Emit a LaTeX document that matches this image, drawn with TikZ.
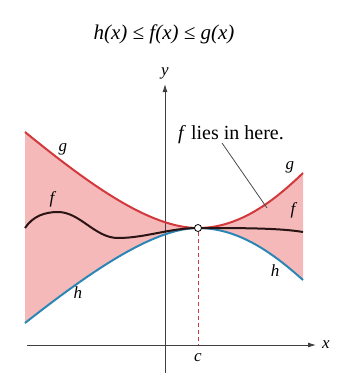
\documentclass[tikz,border=0pt]{standalone}
\usepackage{fontspec}
\setmainfont{Liberation Serif}
\usetikzlibrary{arrows.meta}
\definecolor{gred}{HTML}{D2383C}
\definecolor{hblue}{HTML}{2A86B4}
\definecolor{fillpink}{HTML}{F5B9B9}
\definecolor{fdark}{HTML}{2A1414}
\tikzset{
  curvelbl/.style={font=\itshape\fontsize{17}{18}\selectfont, inner sep=0pt},
  axis/.style={draw=black!75, line width=0.9pt},
}
\begin{document}
\begin{tikzpicture}[x=1pt,y=-1pt]
\useasboundingbox (0,0) rectangle (338,376);
% fill region between g and h
\fill[fillpink] (25,132) .. controls (90,185) and (150,228) .. (198,228)
  .. controls (240,228) and (275,200) .. (303,173) -- (303,280)
  .. controls (275,255) and (240,228) .. (198,228)
  .. controls (150,228) and (80,280) .. (25,323) -- cycle;
% axes
\coordinate (xl) at (27,345); \coordinate (xr) at (316,345);
\coordinate (yb) at (165,373); \coordinate (yt) at (165,84);
\draw[axis,-{Latex[length=8pt,width=5pt]}] (xl) -- (xr);
\draw[axis,-{Latex[length=8pt,width=5pt]}] (yb) -- (yt);
\node[curvelbl] (xlab) at (326,345) {x};
\node[curvelbl] (ylab) at (165,73) {y};
% curves
\draw[gred, line width=2pt] (25,132) .. controls (90,185) and (150,228) .. (198,228)
  .. controls (240,228) and (275,200) .. (303,173);
\draw[hblue, line width=2pt] (25,323) .. controls (80,280) and (150,228) .. (198,228)
  .. controls (240,228) and (275,255) .. (303,280);
\draw[fdark, line width=2pt] (25,228) .. controls (33,216) and (45,212) .. (58,212)
  .. controls (80,212) and (95,238) .. (118,238)
  .. controls (145,238) and (170,228) .. (198,228)
  .. controls (240,228) and (280,228) .. (303,232);
% c
\coordinate (cx) at (198,345);
\node[circle, draw=black, fill=white, line width=0.8pt, inner sep=0pt, minimum size=7pt] (pt) at (198,228) {};
\draw[gred, dashed, line width=1pt, dash pattern=on 4pt off 3pt] (pt) -- (cx);
\node[curvelbl] (clab) at (198,358) {c};
% labels
\node[font=\itshape\fontsize{21}{22}\selectfont, inner sep=0pt] (title) at (164,34) {h(x) ≤ f(x) ≤ g(x)};
\node[curvelbl] (gl) at (63,149) {g};
\node[curvelbl] (fl) at (52,199) {f};
\node[curvelbl] (hl) at (78,293) {h};
\node[curvelbl] (gr) at (290,167) {g};
\node[curvelbl] (fr) at (293,210) {f};
\node[curvelbl] (hr) at (275,271) {h};
\node[font=\fontsize{20}{22}\selectfont, inner sep=1pt] (lies) at (231,135) {\textit{f} lies in here.};
\coordinate (liesstart) at (222,143);
\coordinate (liesend) at (267,208);
\draw[black!70, line width=0.8pt] (liesstart) -- (liesend);
\end{tikzpicture}
\end{document}
